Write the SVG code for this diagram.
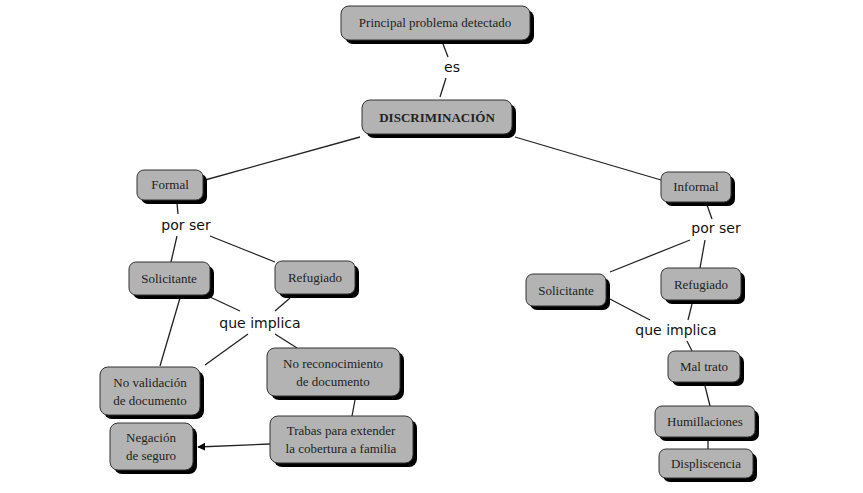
<svg xmlns="http://www.w3.org/2000/svg" width="863" height="493" viewBox="0 0 863 493">
<defs>
<style>
.n rect.s{fill:#000}
.n rect.b{fill:#b3b3b3;stroke:#333;stroke-width:1}
.n text{font-family:"Liberation Serif",serif;font-size:13px;fill:#222;text-anchor:middle}
.l{font-family:"DejaVu Sans",sans-serif;font-size:14px;fill:#111;text-anchor:middle}
#c line{stroke:#222;stroke-width:1.3}
</style>
<marker id="a" viewBox="0 0 10 10" refX="9" refY="5" markerWidth="8" markerHeight="8" orient="auto" markerUnits="userSpaceOnUse"><path d="M0,0L10,5L0,10z" fill="#000"/></marker>
</defs>
<rect width="863" height="493" fill="#fff"/>
<g id="c">
<line x1="443" y1="44" x2="448" y2="57"/>
<line x1="446" y1="78" x2="440" y2="97"/>
<line x1="360" y1="137" x2="205" y2="180"/>
<line x1="515" y1="137" x2="661" y2="180"/>
<line x1="177" y1="203" x2="178" y2="214"/>
<line x1="177" y1="236" x2="171" y2="262"/>
<line x1="210" y1="236" x2="275" y2="262"/>
<line x1="210" y1="297" x2="240" y2="311"/>
<line x1="290" y1="298" x2="275" y2="311"/>
<line x1="180" y1="298" x2="160" y2="366"/>
<line x1="248" y1="334" x2="205" y2="365"/>
<line x1="275" y1="334" x2="297" y2="348"/>
<line x1="355" y1="400" x2="352" y2="416"/>
<line x1="270" y1="444" x2="198" y2="447" marker-end="url(#a)"/>
<line x1="707" y1="205" x2="712" y2="219"/>
<line x1="690" y1="240" x2="610" y2="272"/>
<line x1="705" y1="240" x2="700" y2="268"/>
<line x1="608" y1="298" x2="650" y2="320"/>
<line x1="692" y1="304" x2="688" y2="320"/>
<line x1="687" y1="341" x2="692" y2="351"/>
<line x1="705" y1="386" x2="710" y2="406"/>
<line x1="708" y1="441" x2="708" y2="449"/>
</g>
<text class="l" x="452" y="72">es</text>
<text class="l" x="186" y="230">por ser</text>
<text class="l" x="260" y="328">que implica</text>
<text class="l" x="716" y="233">por ser</text>
<text class="l" x="676" y="335">que implica</text>
<g id="n1" class="n"><rect class="s" x="345" y="10" width="189" height="34" rx="8"/><rect class="b" x="341" y="6" width="189" height="34" rx="8"/><text x="435" y="27">Principal problema detectado</text></g>
<g id="n2" class="n"><rect class="s" x="366" y="104" width="150" height="34" rx="8"/><rect class="b" x="362" y="100" width="150" height="34" rx="8"/><text x="437" y="122" font-weight="bold">DISCRIMINACIÓN</text></g>
<g id="n3" class="n"><rect class="s" x="141" y="174" width="66" height="30" rx="7"/><rect class="b" x="137" y="170" width="66" height="30" rx="7"/><text x="170" y="189">Formal</text></g>
<g id="n4" class="n"><rect class="s" x="665" y="176" width="70" height="30" rx="7"/><rect class="b" x="661" y="172" width="70" height="30" rx="7"/><text x="696" y="191">Informal</text></g>
<g id="n5" class="n"><rect class="s" x="133" y="266" width="81" height="33" rx="7"/><rect class="b" x="129" y="262" width="81" height="33" rx="7"/><text x="169" y="283">Solicitante</text></g>
<g id="n6" class="n"><rect class="s" x="279" y="265" width="80" height="33" rx="7"/><rect class="b" x="275" y="261" width="80" height="33" rx="7"/><text x="315" y="282">Refugiado</text></g>
<g id="n7" class="n"><rect class="s" x="104" y="371" width="100" height="48" rx="8"/><rect class="b" x="100" y="367" width="100" height="48" rx="8"/><text x="150" y="387">No validación</text><text x="150" y="405">de documento</text></g>
<g id="n8" class="n"><rect class="s" x="271" y="352" width="133" height="48" rx="8"/><rect class="b" x="267" y="348" width="133" height="48" rx="8"/><text x="333" y="368">No reconocimiento</text><text x="333" y="386">de documento</text></g>
<g id="n9" class="n"><rect class="s" x="114" y="427" width="83" height="47" rx="8"/><rect class="b" x="110" y="423" width="83" height="47" rx="8"/><text x="151" y="442">Negación</text><text x="151" y="460">de seguro</text></g>
<g id="n10" class="n"><rect class="s" x="274" y="420" width="143" height="47" rx="8"/><rect class="b" x="270" y="416" width="143" height="47" rx="8"/><text x="341" y="435">Trabas para extender</text><text x="341" y="453">la cobertura a familia</text></g>
<g id="n11" class="n"><rect class="s" x="530" y="278" width="80" height="32" rx="7"/><rect class="b" x="526" y="274" width="80" height="32" rx="7"/><text x="566" y="295">Solicitante</text></g>
<g id="n12" class="n"><rect class="s" x="665" y="272" width="80" height="32" rx="7"/><rect class="b" x="661" y="268" width="80" height="32" rx="7"/><text x="701" y="289">Refugiado</text></g>
<g id="n13" class="n"><rect class="s" x="672" y="355" width="72" height="31" rx="7"/><rect class="b" x="668" y="351" width="72" height="31" rx="7"/><text x="704" y="371">Mal trato</text></g>
<g id="n14" class="n"><rect class="s" x="659" y="410" width="100" height="31" rx="7"/><rect class="b" x="655" y="406" width="100" height="31" rx="7"/><text x="705" y="426">Humillaciones</text></g>
<g id="n15" class="n"><rect class="s" x="663" y="453" width="94" height="29" rx="7"/><rect class="b" x="659" y="449" width="94" height="29" rx="7"/><text x="706" y="468">Displiscencia</text></g>
</svg>
